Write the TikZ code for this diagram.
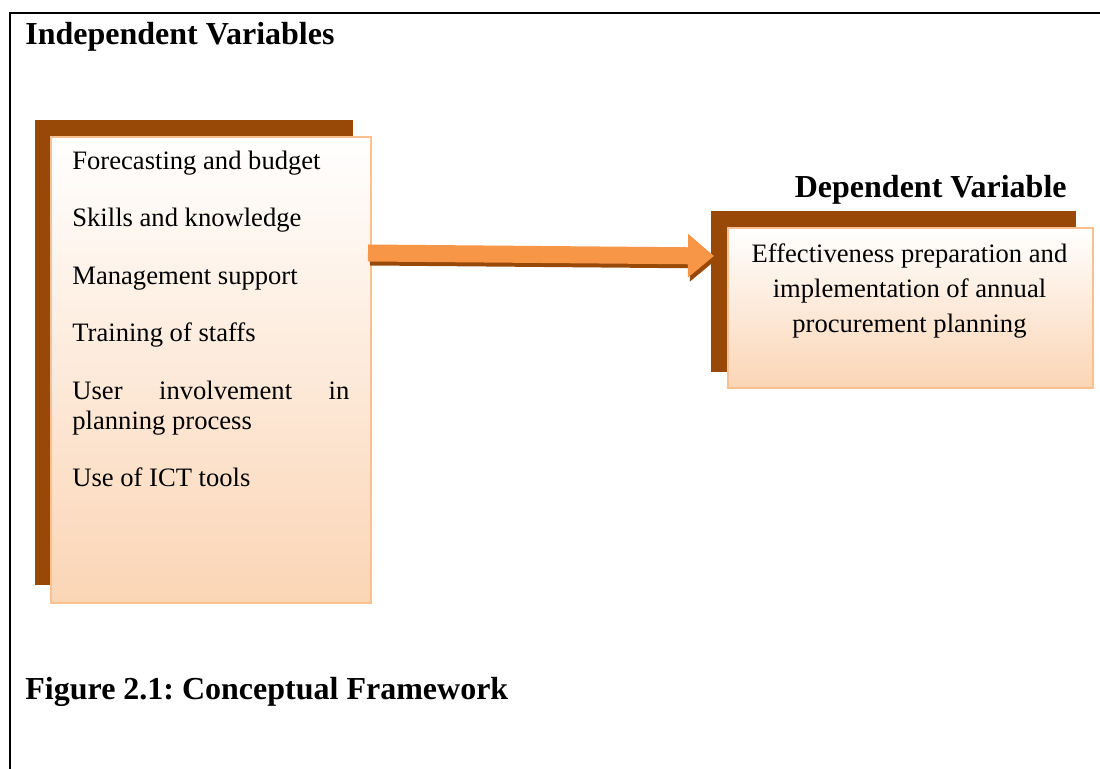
\documentclass[tikz,border=0pt]{standalone}
\usepackage{fontspec}
\setmainfont{Liberation Serif}
\usetikzlibrary{arrows.meta}
\definecolor{rust}{HTML}{984807}
\definecolor{peach}{HTML}{FBD5B5}
\definecolor{apricot}{HTML}{FAC090}
\definecolor{tangerine}{HTML}{F79646}
\frenchspacing
\hyphenpenalty=10000
\exhyphenpenalty=10000
\begin{document}
\begin{tikzpicture}[x=0.5pt,y=-0.5pt]
    \tikzstyle{backbox}=[fill=rust, inner sep=0pt, anchor=north west]
    \tikzstyle{frontbox}=[draw=apricot, line width=1pt, top color=white, bottom color=peach, inner sep=0pt, anchor=north west]
    \tikzstyle{head}=[font=\fontsize{16}{19}\selectfont\bfseries, inner sep=0pt, anchor=base west]
    \tikzstyle{item}=[font=\fontsize{13.3}{15}\selectfont, inner sep=0pt, anchor=base west, text width=138.5pt, align=justify]
    \tikzstyle{fat}=[line width=8.5pt, -{Triangle[length=13pt,width=21pt]}]
    \useasboundingbox (0,0) rectangle (1100,769);
    \draw[line width=1.2pt] (10,769) -- (10,13) -- (1100,13);
    \node[head] (ivtitle) at (25,45) {Independent Variables};
    \node[head, anchor=base east] (dvtitle) at (1067,198) {Dependent Variable};
    \node[head] (caption) at (25,700) {Figure 2.1: Conceptual Framework};
    % independent side
    \node[backbox, minimum width=159pt, minimum height=232.5pt] (ivback) at (35,120) {};
    \node[frontbox, minimum width=160pt, minimum height=233pt] (iv) at (50,136) {};
    \foreach \y/\nm/\txt in {170/fcast/Forecasting and budget, 227/skills/Skills and knowledge,
      285/mgmt/Management support, 342/training/Training of staffs,
      400/users/User involvement in planning process, 487/ict/Use of ICT tools}
      \node[item] (\nm) at (72,\y) {\txt};
    % dependent side
    \node[backbox, minimum width=182.5pt, minimum height=80.5pt] (dvback) at (711,211) {};
    \node[frontbox, minimum width=182.5pt, minimum height=80pt] (dv) at (727,227) {};
    \node[font=\fontsize{13.3}{17.5}\selectfont, align=center, inner sep=0pt, anchor=base] (dvtext) at (909.5,333)
      {Effectiveness preparation and\\ implementation of annual\\ procurement planning};
    % block arrow with its shadow
    \coordinate (tail) at (368,253);
    \coordinate (tip) at (714,256);
    \draw[fat, rust] ([shift={(2,4)}]tail) -- ([shift={(2,4)}]tip);
    \draw[fat, tangerine] (tail) -- (tip);
\end{tikzpicture}
\end{document}
